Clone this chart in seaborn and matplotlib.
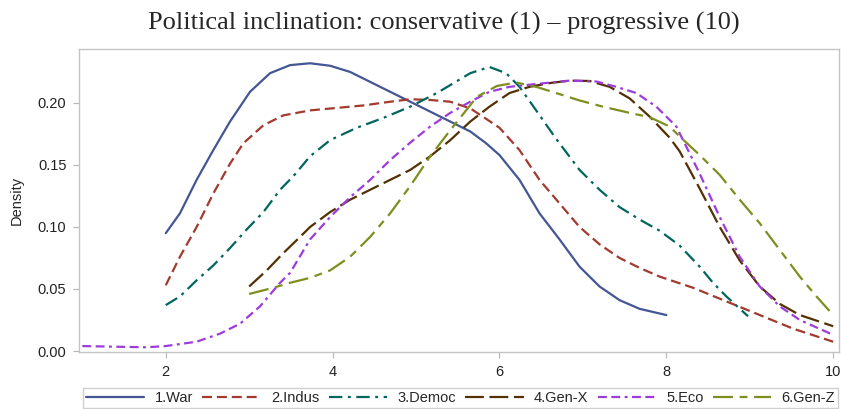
import numpy as np
import pandas as pd
import matplotlib
matplotlib.use("Agg")
import matplotlib.pyplot as plt
import seaborn as sns

# ---------------- data ----------------
groups = ["1.War", "2.Indus", "3.Democ", "4.Gen-X", "5.Eco", "6.Gen-Z"]

war_x = [2.0, 2.17, 2.37, 2.57, 2.77, 3.01, 3.25, 3.49, 3.73, 3.97, 4.21, 4.45, 4.69, 4.93, 5.17,
         5.41, 5.65, 5.84, 6.0, 6.24, 6.48, 6.72, 6.96, 7.2, 7.44, 7.68, 8.0]
war_y = [0.095, 0.111, 0.138, 0.162, 0.185, 0.209, 0.224, 0.2305, 0.232, 0.230, 0.225, 0.217, 0.209,
         0.201, 0.193, 0.185, 0.177, 0.1675, 0.158, 0.138, 0.111, 0.090, 0.068, 0.052, 0.041,
         0.034, 0.029]

indus_x = [2.0, 2.17, 2.37, 2.57, 2.77, 2.93, 3.17, 3.41, 3.73, 4.05, 4.37, 4.69, 4.93, 5.17, 5.41,
           5.65, 5.8, 6.0, 6.24, 6.48, 6.72, 6.96, 7.2, 7.44, 7.68, 7.92, 8.32, 8.72, 9.12, 9.52,
           10.0]
indus_y = [0.053, 0.076, 0.100, 0.127, 0.151, 0.1675, 0.182, 0.190, 0.194, 0.196, 0.198, 0.201,
           0.203, 0.2024, 0.201, 0.1956, 0.189, 0.180, 0.162, 0.138, 0.119, 0.100, 0.086, 0.075,
           0.067, 0.060, 0.051, 0.040, 0.029, 0.018, 0.0075]

democ_x = [2.0, 2.17, 2.37, 2.57, 2.77, 2.97, 3.17, 3.37, 3.53, 3.73, 3.97, 4.29, 4.61, 4.93, 5.25,
           5.45, 5.65, 5.88, 6.08, 6.24, 6.44, 6.68, 6.96, 7.2, 7.44, 7.68, 7.92, 8.16, 8.4, 8.56,
           8.72, 8.98]
democ_y = [0.037, 0.044, 0.057, 0.069, 0.083, 0.098, 0.112, 0.130, 0.141, 0.157, 0.170, 0.180,
           0.188, 0.197, 0.208, 0.216, 0.224, 0.229, 0.224, 0.213, 0.194, 0.171, 0.146, 0.130,
           0.116, 0.106, 0.097, 0.085, 0.068, 0.055, 0.044, 0.028]

genx_x = [3.0, 3.21, 3.41, 3.61, 3.73, 3.97, 4.21, 4.45, 4.69, 4.93, 5.17, 5.41, 5.65, 5.88, 6.12,
          6.36, 6.6, 6.84, 7.08, 7.32, 7.56, 7.8, 8.04, 8.16, 8.4, 8.64, 8.88, 9.12, 9.36, 9.6,
          10.0]
genx_y = [0.052, 0.065, 0.079, 0.092, 0.100, 0.112, 0.122, 0.130, 0.138, 0.146, 0.157, 0.170, 0.185,
          0.197, 0.208, 0.213, 0.216, 0.218, 0.2177, 0.213, 0.2037, 0.189, 0.172, 0.161, 0.131,
          0.100, 0.073, 0.052, 0.038, 0.029, 0.020]

eco_x = [1.0, 1.37, 1.77, 2.0, 2.37, 2.65, 2.89, 3.13, 3.37, 3.49, 3.73, 3.97, 4.21, 4.45, 4.69,
         4.93, 5.17, 5.41, 5.65, 5.88, 6.12, 6.44, 6.84, 7.16, 7.4, 7.64, 7.88, 8.12, 8.4, 8.64,
         8.88, 9.12, 9.36, 9.6, 10.0]
eco_y = [0.004, 0.0035, 0.003, 0.004, 0.0075, 0.014, 0.022, 0.036, 0.055, 0.063, 0.090, 0.108, 0.124,
         0.138, 0.154, 0.168, 0.181, 0.192, 0.201, 0.209, 0.213, 0.2153, 0.218, 0.2173, 0.213,
         0.208, 0.197, 0.181, 0.143, 0.108, 0.076, 0.052, 0.036, 0.025, 0.013]

genz_x = [3.0, 3.29, 3.49, 3.73, 3.97, 4.21, 4.45, 4.69, 4.93, 5.17, 5.41, 5.73, 5.97, 6.2, 6.44,
          6.68, 6.96, 7.24, 7.56, 7.8, 8.04, 8.16, 8.4, 8.64, 8.88, 9.12, 9.36, 9.6, 9.8, 10.0]
genz_y = [0.046, 0.051, 0.055, 0.059, 0.065, 0.076, 0.092, 0.111, 0.133, 0.157, 0.178, 0.205,
          0.2137, 0.2165, 0.213, 0.208, 0.202, 0.197, 0.192, 0.1885, 0.181, 0.173, 0.158, 0.142,
          0.122, 0.103, 0.0815, 0.060, 0.044, 0.029]

x_ticks = [2, 4, 6, 8, 10]
y_ticks = [0.00, 0.05, 0.10, 0.15, 0.20]

# ---------------- build long table ----------------
series = [(groups[0], war_x, war_y), (groups[1], indus_x, indus_y), (groups[2], democ_x, democ_y),
          (groups[3], genx_x, genx_y), (groups[4], eco_x, eco_y), (groups[5], genz_x, genz_y)]
frames = [pd.DataFrame({"x": xs, "Density": ys, "group": g}) for g, xs, ys in series]
df = pd.concat(frames, ignore_index=True)

palette = {"1.War": "#445694", "2.Indus": "#A23A2E", "3.Democ": "#01665E",
           "4.Gen-X": "#543005", "5.Eco": "#9D3CDB", "6.Gen-Z": "#7F8E1F"}
dashes = {"1.War": "",
          "2.Indus": (4.5, 2.2),
          "3.Democ": (6, 2.5, 1.3, 2.5),
          "4.Gen-X": (8.5, 2.5),
          "5.Eco": (4, 2, 4, 2, 1.3, 2),
          "6.Gen-Z": (9, 3, 3.5, 3)}

# ---------------- plot ----------------
sns.set_theme(style="white")
plt.rcParams["font.family"] = ["Liberation Sans", "DejaVu Sans"]

fig = plt.figure(figsize=(8.41, 4.09), dpi=100)
ax = fig.add_axes([79 / 841, 1 - 352 / 409, (839 - 79) / 841, (352 - 49) / 409])

sns.lineplot(data=df, x="x", y="Density", hue="group", style="group", palette=palette,
             dashes=dashes, linewidth=1.6, ax=ax, legend=True, sort=False, estimator=None)

ax.set_xlim(0.96, 10.07)
ax.set_ylim(-0.0008, 0.2435)
ax.set_xticks(x_ticks)
ax.set_xticklabels([str(t) for t in x_ticks])
ax.set_yticks(y_ticks)
ax.set_yticklabels([f"{t:.2f}" for t in y_ticks])
ax.set_xlabel("")
ax.set_ylabel("Density", fontsize=10.5, labelpad=10)
ax.tick_params(axis="both", which="major", direction="out", length=4, width=0.8,
               color="#b5b5b5", labelsize=10.5, labelcolor="#222222", bottom=True, left=True, pad=5)
for s in ax.spines.values():
    s.set_color("#c4c4c4")
    s.set_linewidth(1.0)

handles, labels = ax.get_legend_handles_labels()
ax.legend_.remove()
leg = fig.legend(handles, labels, loc="lower left", ncol=6, mode="expand",
                 bbox_to_anchor=(83 / 841, 1 / 409, (838 - 83) / 841, 19 / 409),
                 borderaxespad=0, frameon=True, fancybox=False, fontsize=10.5,
                 handlelength=4.0, handletextpad=0.7, borderpad=0.2, columnspacing=1.0)
leg.get_frame().set_edgecolor("#c4c4c4")
leg.get_frame().set_linewidth(1.0)

fig.text(444 / 841, 1 - 23 / 409, "Political inclination: conservative (1) \u2013 progressive (10)",
         ha="center", va="center", fontsize=19, family=["Liberation Serif", "DejaVu Serif"])

fig.savefig("out.png", dpi=100)
